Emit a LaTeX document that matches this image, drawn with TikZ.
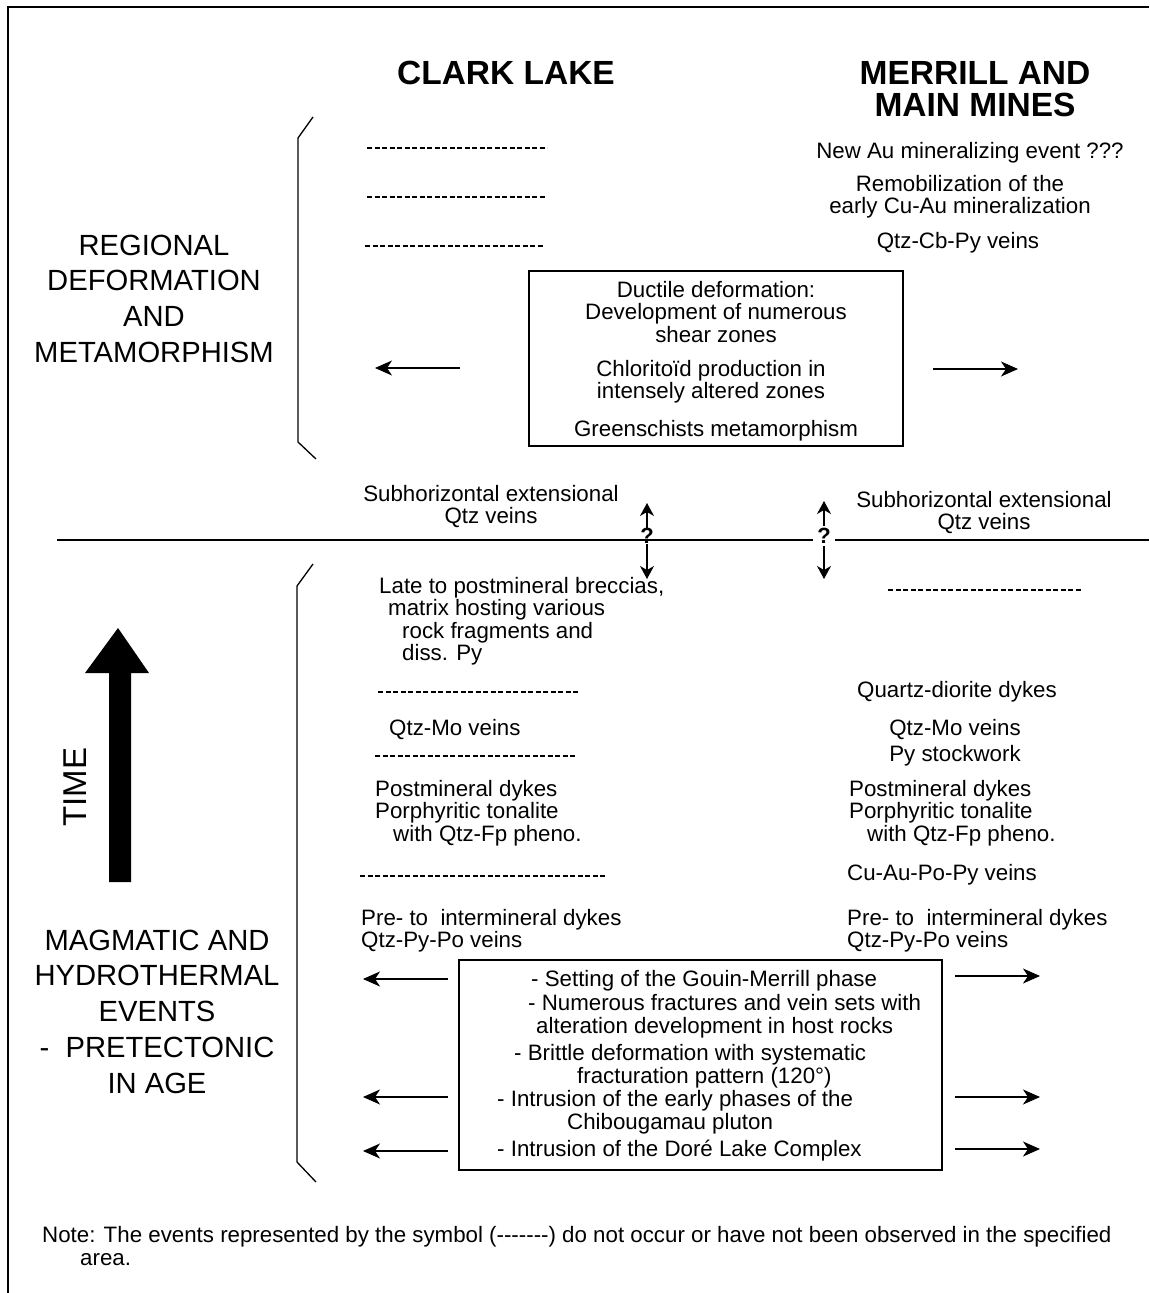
\documentclass[tikz,border=0pt]{standalone}
\usepackage{fontspec}
\setmainfont{Liberation Sans}
\usetikzlibrary{arrows.meta}
\begin{document}
\begin{tikzpicture}[x=1pt,y=-1pt,
  % multi-line nodes are placed by the baseline of their last line
  txt/.style={inner sep=0pt, font=\fontsize{22.3}{22.6}\selectfont, align=center, anchor=base},
  txtl/.style={txt, align=left, anchor=base west},
  lbl/.style={inner sep=0pt, font=\fontsize{29.2}{35.8}\selectfont, align=center, anchor=base},
  headtxt/.style={inner sep=0pt, font=\fontsize{33.5}{32}\selectfont\bfseries, align=center, anchor=base},
  absent/.style={line width=1.8pt, dash pattern=on 5pt off 2.5pt},
  evbox/.style={draw, line width=1.2pt},
  brace/.style={line width=1.3pt},
  flow/.style={line width=1.1pt, -{Stealth[length=17pt,width=15pt,inset=5pt]}},
  unsure/.style={line width=1.1pt, -{Stealth[length=13pt,width=14pt,inset=4pt]}}
]
\useasboundingbox (0,0) rectangle (1149,1293);

% frame
\draw[line width=1.4pt] (8,1293) -- (8,7) -- (1149,7);

% column headings
\node[headtxt] (hclark) at (506,84) {CLARK LAKE};
\node[headtxt] (hmerrill) at (975,116) {MERRILL AND\\MAIN MINES};

% brackets grouping the two periods
\draw[brace] (313,117) -- (298,138) -- (298,442) -- (316,459);
\draw[brace] (313,564) -- (297,586) -- (297,1162) -- (316,1182);

% period labels
\node[lbl] (regional) at (154,362.4) {REGIONAL\\DEFORMATION\\AND\\METAMORPHISM};
\node[lbl] (magmatic) at (157,1093.2) {MAGMATIC AND\\HYDROTHERMAL\\EVENTS\\- \ PRETECTONIC\\IN AGE};

% time arrow
\fill (109,882) -- (109,673) -- (85,673) -- (118,628) -- (149,673) -- (131,673) -- (131,882) -- cycle;
\node[inner sep=0pt, font=\fontsize{33}{33}\selectfont, rotate=90] (time) at (75,787) {TIME};

% ---- regional deformation: Clark Lake
\draw[absent] (367,148) -- (547,148);
\draw[absent] (367,197) -- (546,197);
\draw[absent] (365,246) -- (544,246);

% ---- regional deformation: Merrill and Main mines
\node[txt] (newau) at (970,158) {New Au mineralizing event ???};
\node[txt] (remob) at (960,213.6) {Remobilization of the\\early Cu-Au mineralization};
\node[txt] (qcp) at (958,248) {Qtz-Cb-Py veins};

% shared deformation box
\draw[evbox] (529,271) rectangle (903,446);
\node[txt] (ductile) at (716,342.2) {Ductile deformation:\\Development of numerous\\shear zones};
\node[txt] (chlor) at (711,398.6) {Chlorito\"id production in\\intensely altered zones};
\node[txt] (green) at (716,436) {Greenschists metamorphism};
\coordinate (ua1) at (460,368); \coordinate (ua2) at (375,368);
\coordinate (ub1) at (933,369); \coordinate (ub2) at (1018,369);
\draw[flow] (ua1) -- (ua2);
\draw[flow] (ub1) -- (ub2);

% subhorizontal veins
\node[txt] (subl) at (491,523.6) {Subhorizontal extensional\\Qtz veins};
\node[txt] (subr) at (984,529.6) {Subhorizontal extensional\\Qtz veins};

% time divide
\draw[line width=2.3pt] (57,540) -- (813,540);
\draw[line width=2.3pt] (835,540) -- (1149,540);

% uncertain position arrows
\node[inner sep=0pt, font=\fontsize{22}{22}\selectfont\bfseries] (q1) at (647,536) {?};
\coordinate (q1u) at (647,503); \coordinate (q1d) at (647,579);
\draw[unsure] (q1.north) -- (q1u);
\draw[unsure] (q1.south) -- (q1d);
\node[inner sep=2pt, font=\fontsize{22}{22}\selectfont\bfseries] (q2) at (824,536) {?};
\coordinate (q2u) at (824,501); \coordinate (q2d) at (824,579);
\draw[unsure] (q2.north) -- (q2u);
\draw[unsure] (q2.south) -- (q2d);

% ---- magmatic events: Clark Lake
\node[txtl] (brec) at (379,660.8) {Late to postmineral breccias,\\\hspace*{9pt}matrix hosting various\\\hspace*{23pt}rock fragments and\\\hspace*{23pt}diss. Py};
\draw[absent] (378,692) -- (580,692);
\node[txtl] (qmol) at (389,735) {Qtz-Mo veins};
\draw[absent] (375,756) -- (576,756);
\node[txtl] (postl) at (375,841.2) {Postmineral dykes\\Porphyritic tonalite\\\hspace*{18pt}with Qtz-Fp pheno.};
\draw[absent] (360,876) -- (606,876);
\node[txtl] (prel) at (361,947.6) {Pre- to \ intermineral dykes\\Qtz-Py-Po veins};

% ---- magmatic events: Merrill and Main mines
\draw[absent] (888,590) -- (1082,590);
\node[txt] (qdio) at (957,697) {Quartz-diorite dykes};
\node[txt] (qmor) at (955,761) {Qtz-Mo veins\\[3.4pt]Py stockwork};
\node[txtl] (postr) at (849,841.2) {Postmineral dykes\\Porphyritic tonalite\\\hspace*{18pt}with Qtz-Fp pheno.};
\node[txtl] (cuau) at (847,880) {Cu-Au-Po-Py veins};
\node[txtl] (prer) at (847,947.6) {Pre- to \ intermineral dykes\\Qtz-Py-Po veins};

% shared early events box
\draw[evbox] (459,960) rectangle (942,1170);
\node[txtl] (gouin) at (531,986) {- Setting of the Gouin-Merrill phase};
\node[txtl] (fract) at (528,1033) {- Numerous fractures and vein sets with\\\hspace*{8pt}alteration development in host rocks};
\node[txtl] (brit) at (514,1083) {- Brittle deformation with systematic\\\hspace*{63pt}fracturation pattern (120\textdegree)};
\node[txtl] (chib) at (497,1129) {- Intrusion of the early phases of the\\\hspace*{70pt}Chibougamau pluton};
\node[txtl] (dore) at (497,1156) {- Intrusion of the Dor\'e Lake Complex};
\coordinate (la1) at (448,979);  \coordinate (la2) at (363,979);
\coordinate (la3) at (448,1097); \coordinate (la4) at (363,1097);
\coordinate (la5) at (448,1151); \coordinate (la6) at (363,1151);
\coordinate (ra1) at (955,976);  \coordinate (ra2) at (1040,976);
\coordinate (ra3) at (955,1097); \coordinate (ra4) at (1040,1097);
\coordinate (ra5) at (955,1149); \coordinate (ra6) at (1040,1149);
\draw[flow] (la1) -- (la2);
\draw[flow] (la3) -- (la4);
\draw[flow] (la5) -- (la6);
\draw[flow] (ra1) -- (ra2);
\draw[flow] (ra3) -- (ra4);
\draw[flow] (ra5) -- (ra6);

% footnote
\node[txtl] (note) at (42,1265) {Note: The events represented by the symbol (-{}-{}-{}-{}-{}-{}-) do not occur or have not been observed in the specified\\\hspace*{38pt}area.};
\end{tikzpicture}
\end{document}
